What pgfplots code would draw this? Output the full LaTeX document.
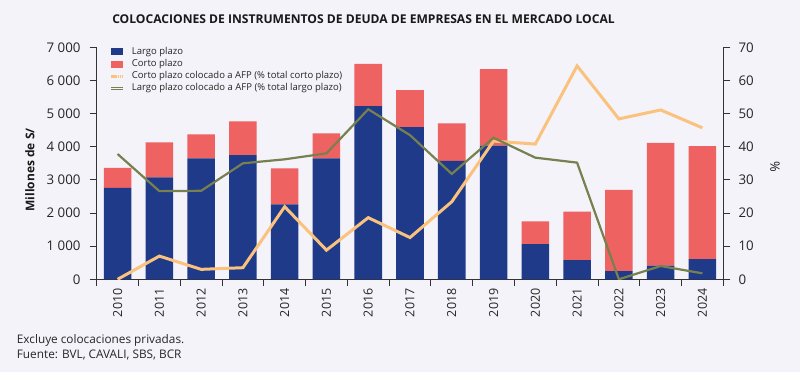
\documentclass[border=0pt]{standalone}
\usepackage{fontspec}
\setmainfont{Open Sans}
\usepackage{pgfplots}
\pgfplotsset{compat=1.18}
\definecolor{bg}{HTML}{F3F3F9}
\definecolor{largo}{HTML}{1F3A89}
\definecolor{corto}{HTML}{EE6262}
\definecolor{naranja}{HTML}{FBC27E}
\definecolor{verde}{HTML}{77804F}
\definecolor{axisgray}{HTML}{333333}
\pgfplotsset{
  common/.style={
    at={(96.7pt,92.7pt)}, anchor=south west,
    scale only axis, width=626.6pt, height=232pt,
    xmin=-0.5, xmax=14.5,
    axis line style={axisgray, line width=0.8pt},
    tick style={axisgray, line width=0.8pt},
    tick align=outside, major tick length=7pt,
    ticklabel style={font=\fontsize{13.3}{15}\selectfont, text=black!85},
    /pgf/number format/assume math mode=true,
    /pgf/number format/1000 sep={\ },
  },
  barleg/.style={legend image code/.code={\fill[##1] (0pt,-3.5pt) rectangle (11.7pt,3.5pt);}},
  lineleg/.style={legend image code/.code={\draw[##1] (0pt,0pt) -- (11.7pt,0pt);}},
  dblleg/.style={legend image code/.code={\draw[##1] (0pt,1.3pt) -- (11.7pt,1.3pt); \draw[##1] (0pt,-1.3pt) -- (11.7pt,-1.3pt);}},
}
\begin{document}
\begin{tikzpicture}
\fill[bg] (0,0) rectangle (800pt,372pt);
\begin{axis}[common,
  ymin=0, ymax=7000,
  ybar stacked, bar width=0.66,
  axis x line*=bottom, axis y line*=left,
  ytick={0,1000,...,7000},
  xtick={-0.5,0.5,...,14.5},
  x tick label as interval,
  xticklabels={2010,2011,2012,2013,2014,2015,2016,2017,2018,2019,2020,2021,2022,2023,2024},
  xticklabel style={rotate=90, anchor=east, font=\fontsize{12.5}{14}\selectfont, inner sep=2pt},
  yticklabel style={inner xsep=9pt},
]
\addplot[fill=largo, draw=none] coordinates {
(0,2760) (1,3075) (2,3650) (3,3750) (4,2260) (5,3645) (6,5225) (7,4595)
(8,3570) (9,4030) (10,1065) (11,575) (12,250) (13,410) (14,610)};
\addplot[fill=corto, draw=none] coordinates {
(0,600) (1,1055) (2,720) (3,1015) (4,1085) (5,755) (6,1275) (7,1115)
(8,1135) (9,2315) (10,685) (11,1465) (12,2450) (13,3710) (14,3410)};
\end{axis}
\begin{axis}[common,
  ymin=0, ymax=70,
  axis y line*=right, axis x line=none,
  ytick={0,10,...,70},
  yticklabel style={inner xsep=8pt},
  legend style={at={(axis description cs:0,1)}, anchor=north west,
    xshift=10pt, yshift=2.2pt, draw=none, fill=none,
    font=\fontsize{9.5}{11}\selectfont, text=black!85,
    nodes={inner sep=0pt, text height=7pt, text depth=2pt},
    row sep=3.2pt, column sep=7.7pt},
  legend cell align=left,
]
\addlegendimage{fill=largo, draw=none, barleg}
\addlegendimage{fill=corto, draw=none, barleg}
\addlegendimage{draw=naranja, line width=2.6pt, dash pattern=on 1.3pt off 0.8pt, lineleg}
\addlegendimage{draw=verde, line width=0.9pt, dblleg}
\addplot[naranja, line width=3pt, forget plot] coordinates {
(0,0) (1,7.0) (2,3.0) (3,3.5) (4,21.9) (5,8.8) (6,18.6) (7,12.6)
(8,23.4) (9,41.7) (10,40.8) (11,64.4) (12,48.4) (13,51.1) (14,45.7)};
\addplot[verde, line width=2.2pt, forget plot] coordinates {
(0,37.8) (1,26.6) (2,26.7) (3,35.0) (4,36.2) (5,38.0) (6,51.3) (7,43.5)
(8,31.8) (9,42.7) (10,36.7) (11,35.2) (12,0) (13,4.0) (14,1.8)};
\legend{Largo plazo, Corto plazo, Corto plazo colocado a AFP (\% total corto plazo), Largo plazo colocado a AFP (\% total largo plazo)}
\end{axis}
\node[font=\bfseries\fontsize{12.1}{14}\selectfont, text=black!90] at (363.5pt,353pt) {COLOCACIONES DE INSTRUMENTOS DE DEUDA DE EMPRESAS EN EL MERCADO LOCAL};
\node[font=\bfseries\fontsize{12}{14}\selectfont, rotate=90, text=black!90] at (30pt,202pt) {Millones de S/};
\node[font=\fontsize{13}{15}\selectfont, rotate=-90, text=black!90] at (775pt,205pt) {\%};
\node[font=\fontsize{11.8}{13}\selectfont, anchor=west, inner sep=0pt, text=black!85] at (16.7pt,32pt) {Excluye colocaciones privadas.};
\node[font=\fontsize{11.8}{13}\selectfont, anchor=west, inner sep=0pt, text=black!85] at (16.7pt,17pt) {Fuente: BVL, CAVALI, SBS, BCR};
\pgfresetboundingbox
\useasboundingbox (0,0) rectangle (800pt,372pt);
\end{tikzpicture}
\end{document}
